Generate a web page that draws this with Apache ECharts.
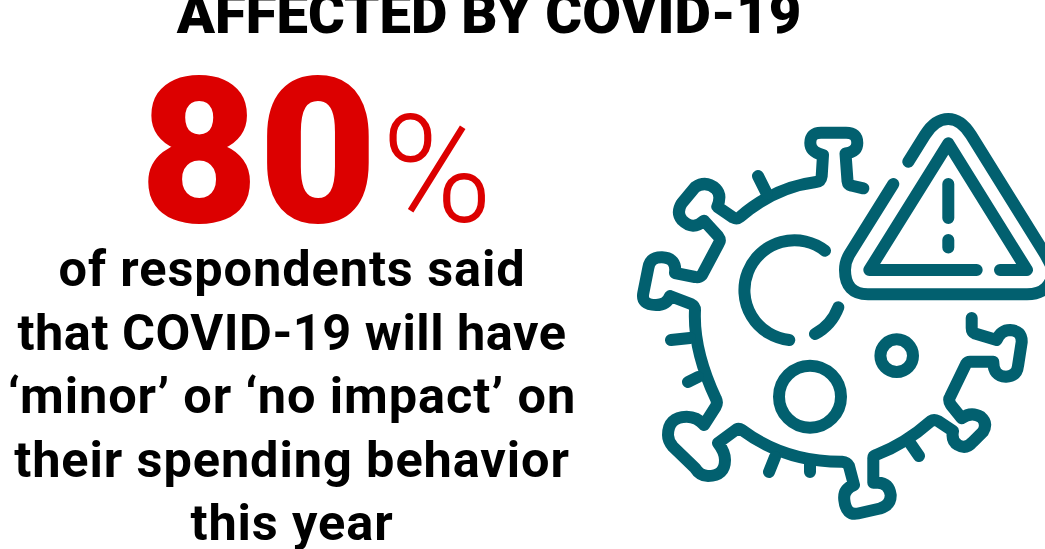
<!DOCTYPE html>
<html>
<head>
<meta charset="utf-8">
<style>
html,body{margin:0;padding:0;background:#fff;overflow:hidden}
#chart{width:1045px;height:549px}
/* body copy is tracked a touch wider than the font default */
#chart text[style*="50.5px"]{letter-spacing:.9px}
#chart text[style*="50.5px"]:nth-of-type(5){letter-spacing:.5px}
</style>
<script src="https://cdn.jsdelivr.net/npm/echarts@6/dist/echarts.min.js"></script>
</head>
<body>
<div id="chart"></div>
<script>
// Headline figure and copy for the infographic
const headingText = 'AFFECTED BY COVID-19';
const shareValue = 80;
const shareUnit = '%';
const bodyLines = [
  'of respondents said',
  'that COVID-19 will have',
  '\u2018minor\u2019 or \u2018no impact\u2019 on',
  'their spending behavior',
  'this year'
];

const RED = '#dc0000';
const TEAL = '#02606f';

// Line-art virus with warning triangle, as stroked outlines
const virusOutline =
  'M863.3 188.3 L851 185.5 Q848 185 847.5 181 L845.5 153.5 ' +
  'Q857.3 152 857.3 143 Q857.3 132.7 846 132.7 L821 132.7 Q810.3 132.7 810.3 143 Q810.3 152 823 155 ' +
  'L821.7 176 Q821 181.5 816 182 Q775 187 740 217 Q737 219.5 733 217.5 L717.3 206.7 ' +
  'Q722 195 716 189 Q706 180 695 187.3 L681.7 203.3 Q676 213 682 220 Q693 231 704 220.7 ' +
  'L718 236 Q721 240 719 243 L702 275 Q699 278 695 277 L675 273 ' +
  'Q677 258 662 257.3 Q650 257 648.3 268 L643.3 293 Q641 305 656 305 Q667 305 670 296 L691 304 Q695 306 695 310 ' +
  'Q693 350 716 399 Q718 403 715.5 407 L704 425 ' +
  'Q697 416.7 686.7 416.7 Q668 417 668 435 Q668 441 673 446.7 L695 468 Q700 476 708 476 Q725 476 725 460 Q725 452 718 443 ' +
  'L737 429 Q739 428 742 430 Q785 462 842 461.7 Q847 462 849 466 L854 485 ' +
  'Q843 489 844.3 500 Q846 516 858 513.5 L880 508.5 Q891 505 890.7 495 Q889 483 878 482.7 L873.3 482.7 ' +
  'L873.3 459 Q873 456 876 455 Q905 444 931 421 Q934 419 938 421 L953 431 ' +
  'Q951 441 958 445 Q966 450 973 441.7 L983 431.7 Q988 423 981 417 Q971 411 961.7 418.3 L951 405 ' +
  'Q948 400 950 397 L966 364 Q967.5 361.7 970 361.7 L993.3 361.7 ' +
  'Q993 376 1006 376.7 Q1017 376 1018 366 L1021.7 342 Q1022 330.5 1010 330 Q1001 330 996.7 340 L975 333.5 Q971.7 332 971.7 328 L971.7 318';

const virusSpikes = [
  'M758 176 L767 194',
  'M671 340 L690 338',
  'M688 382 L698 377',
  'M769 472 L775 457',
  'M810 472 L810 462',
  'M919 456 L910 443'
].join(' ');

const virusCore =
  'M825 250.7 A50 50 0 1 0 789.3 340 ' +
  'M838.3 307.3 A51 51 0 0 1 815 334 ' +
  'M841 396.7 A31 31 0 1 1 779 396.7 A31 31 0 1 1 841 396.7 ' +
  'M913 355.7 A16.3 16.3 0 1 1 880.4 355.7 A16.3 16.3 0 1 1 913 355.7';

const warningSign =
  'M908.3 161.7 L925 135 Q935 119 948.3 119 Q961 119 971 135 L1045 254 L1053 269 Q1052 294 1027 294.3 ' +
  'L868 294.3 Q845 294 845 270 Q845 262 849 255 L893.3 184 ' +
  'M976.7 270 L869.3 270 L948.3 143.3 L1027 270 L1000 270 ' +
  'M948.3 184 L948.3 218 M948.3 240 L948.3 247.5';

// Each outline becomes a named shape type the graphic component can instantiate
const iconShapes = {
  virusOutline: virusOutline,
  virusSpikes: virusSpikes,
  virusCore: virusCore,
  warningSign: warningSign
};
Object.keys(iconShapes).forEach(function (name) {
  echarts.graphic.registerShape(name, echarts.graphic.extendPath(iconShapes[name], {}));
});

function stroked(name, width) {
  return {
    type: name,
    style: { fill: 'none', stroke: TEAL, lineWidth: width, lineCap: 'round', lineJoin: 'round' }
  };
}

function label(text, x, y, font, fill) {
  return {
    type: 'text',
    x: x, y: y,
    style: { text: text, font: font, fill: fill, align: 'center', verticalAlign: 'middle' }
  };
}

const bodyElements = bodyLines.map(function (line, i) {
  return label(line, 292, 268.5 + i * 63.5, '700 50.5px Roboto', '#000');
});

const chart = echarts.init(document.getElementById('chart'), null, { renderer: 'svg' });
chart.setOption({
  backgroundColor: '#fff',
  animation: false,
  graphic: { elements: [
    label(headingText, 489, 13.5, '900 56.2px Roboto', '#000'),
    label(String(shareValue), 258.5, 151.5, '900 205px Roboto', RED),
    label(shareUnit, 437, 169.5, '300 150px Roboto', RED)
  ].concat(bodyElements, [
    stroked('virusOutline', 12),
    stroked('virusSpikes', 12),
    stroked('virusCore', 12),
    stroked('warningSign', 12)
  ]) }
});
</script>
</body>
</html>
